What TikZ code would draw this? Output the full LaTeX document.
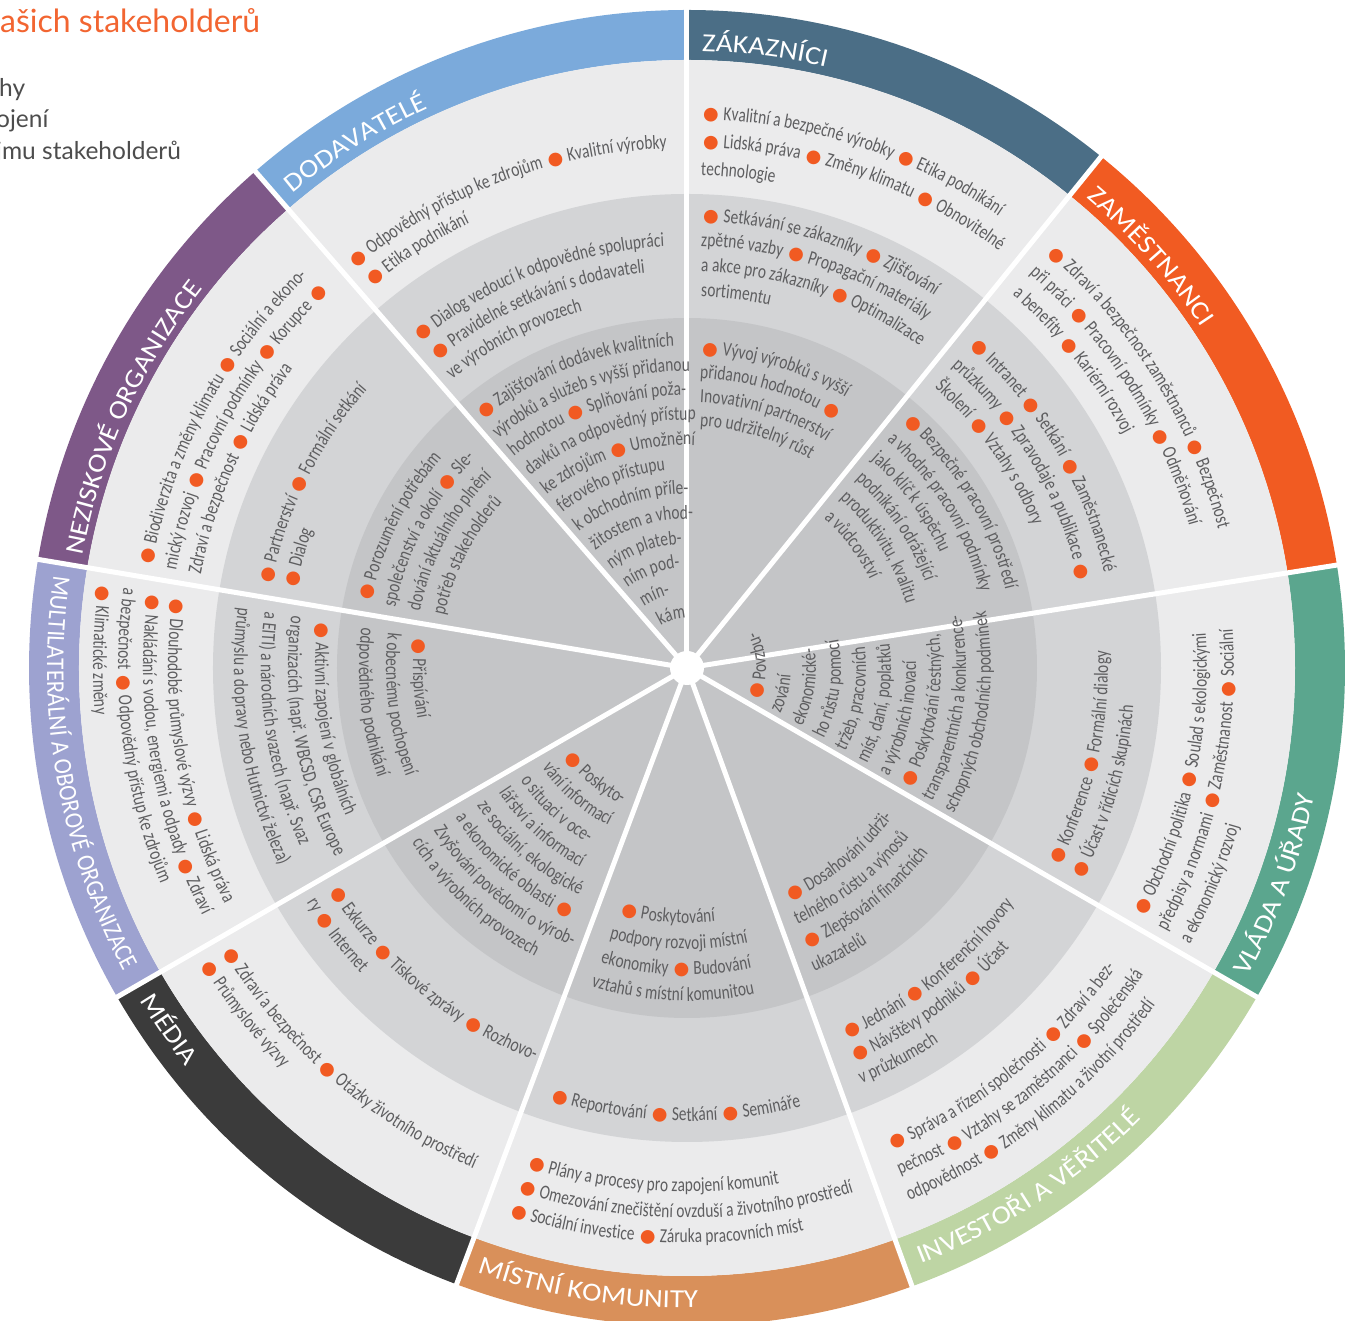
\documentclass[tikz,border=0pt]{standalone}
\usepackage{fontspec}
\usepackage{tikz}
\usetikzlibrary{decorations.text}
\newfontfamily\cnd[FakeStretch=0.77]{Carlito}
\newfontfamily\wide[FakeStretch=1.12]{Carlito}
\newfontfamily\widen[FakeStretch=0.9]{Carlito}
\newfontfamily\symf{DejaVu Sans}
\newfontfamily\legf{Lato}
\definecolor{zak}{HTML}{4B6E86}
\definecolor{zam}{HTML}{F15B22}
\definecolor{vla}{HTML}{5BA68E}
\definecolor{inv}{HTML}{BED5A4}
\definecolor{mis}{HTML}{D9905A}
\definecolor{med}{HTML}{3B3B3B}
\definecolor{mul}{HTML}{9DA2D0}
\definecolor{nez}{HTML}{7E5888}
\definecolor{dod}{HTML}{7BAADB}
\definecolor{ringa}{HTML}{EBEBEC}
\definecolor{ringb}{HTML}{D3D4D6}
\definecolor{ringc}{HTML}{C4C5C7}
\definecolor{txt}{HTML}{5E5E60}
\definecolor{dotc}{HTML}{F15A22}
\definecolor{ttl}{HTML}{F26531}
\definecolor{leg}{HTML}{4D4D4D}
\newcommand\bodyfont{\cnd\fontsize{20}{24}\selectfont\color{txt}}
\newcommand\bandfont{\wide\fontsize{26}{30}\selectfont\color{white}}
\newcommand\bandnarrow{\widen\fontsize{25.5}{30}\selectfont\color{white}}
\newcommand\bul{\kern2pt{\symf\fontsize{18}{18}\selectfont\color{dotc}●}\kern1pt}
% text on an arc, clockwise (upper half) and counterclockwise (lower half)
\newcommand\tup[5][\bodyfont]{%
  \pgfmathsetmacro\tsa{#2-deg(#4/#3)}%
  \pgfmathsetmacro\tsb{\tsa-min(300,deg(600/#3))}%
  \path[decorate,decoration={text along path,text={|#1|#5}}]
    (\tsa:#3) arc[start angle=\tsa,end angle=\tsb,radius=#3];}
\newcommand\tdn[5][\bodyfont]{%
  \pgfmathsetmacro\tsa{#2+deg(#4/#3)}%
  \pgfmathsetmacro\tsb{\tsa+min(300,deg(600/#3))}%
  \path[decorate,decoration={text along path,text={|#1|#5}}]
    (\tsa:#3) arc[start angle=\tsa,end angle=\tsb,radius=#3];}
\tikzstyle{sep}=[white,line width=5pt]
\tikzstyle{legend}=[anchor=base west,inner sep=0pt]

\begin{document}
\begin{tikzpicture}[x=1pt,y=1pt]
\useasboundingbox (-687,-653) rectangle (671,668);
\node[legend,text=ttl,font=\legf\fontsize{32}{34}\selectfont] (title) at (-687,635) {ašich stakeholderů};
\node[legend,text=leg,font=\legf\fontsize{24.5}{26}\selectfont] (lega) at (-688,571) {hy};
\node[legend,text=leg,font=\legf\fontsize{24.5}{26}\selectfont] (legb) at (-691,540) {ojení};
\node[legend,text=leg,font=\legf\fontsize{24.5}{26}\selectfont] (legc) at (-691,508) {jmu stakeholderů};

\foreach \a/\b/\col in {90/51/zak,51/9/zam,9/-30/vla,-30/-70/inv,-70/-110.5/mis,
  -110.5/-150/med,-150/-189.5/mul,170.5/131/nez,131/90/dod}
  \fill[\col] (\a:608) arc[start angle=\a,end angle=\b,radius=608]
    -- (\b:658) arc[start angle=\b,end angle=\a,radius=658] -- cycle;
\fill[ringa] (0,0) circle[radius=608];
\fill[ringb] (0,0) circle[radius=474];
\fill[ringc] (0,0) circle[radius=350];
\foreach \a in {90,51,9,-30,-70,-110.5,-150,170.5,131}
  \draw[sep] (0,0) -- (\a:664);
\fill[white] (0,0) circle[radius=17];

\tup[\bandfont]{90}{617}{15}{ZÁKAZNÍCI}
\tup[\bandfont]{51}{617}{14}{ZAMĚSTNANCI}
\tdn[\bandfont]{-30}{640}{13}{VLÁDA A ÚŘADY}
\tdn[\bandfont]{-70}{640}{16}{INVESTOŘI A VĚŘITELÉ}
\tdn[\bandfont]{-110.5}{640}{15}{MÍSTNÍ KOMUNITY}
\tdn[\bandfont]{-150}{640}{14}{MÉDIA}
\tdn[\bandnarrow]{170.5}{640}{13}{MULTILATERÁLNÍ A OBOROVÉ ORGANIZACE}
\tup[\bandfont]{170.5}{615}{11}{NEZISKOVÉ ORGANIZACE}
\tup[\bandfont]{131}{617}{14}{DODAVATELÉ}

% zakaznici
\tup{90}{549}{14}{{\bul} Kvalitní a bezpečné výrobky {\bul} Etika podnikání}
\tup{90}{521}{14}{{\bul} Lidská práva {\bul} Změny klimatu {\bul} Obnovitelné}
\tup{90}{493}{14}{technologie}
\tup{90}{447}{14}{{\bul} Setkávání se zákazníky {\bul} Zjišťování}
\tup{90}{422}{14}{zpětné vazby {\bul} Propagační materiály}
\tup{90}{397}{14}{a akce pro zákazníky {\bul} Optimalizace}
\tup{90}{372}{14}{sortimentu}
\tup{90}{314}{13}{{\bul} Vývoj výrobků s vyšší}
\tup{90}{290}{13}{přidanou hodnotou {\bul}}
\tup{90}{266}{13}{Inovativní partnerství}
\tup{90}{242}{13}{pro udržitelný růst}

% zamestnanci
\tup{51}{549}{18}{{\bul} Zdraví a bezpečnost zaměstnanců {\bul} Bezpečnost}
\tup{51}{522}{18}{při práci {\bul} Pracovní podmínky {\bul} Odměňování}
\tup{51}{495}{18}{a benefity {\bul} Kariérní rozvoj}
\tup{51}{428}{16}{{\bul} Intranet {\bul} Setkání {\bul} Zaměstnanecké}
\tup{51}{401}{16}{průzkumy {\bul} Zpravodaje a publikace {\bul}}
\tup{51}{374}{16}{Školení {\bul} Vztahy s odbory}
\tup{51}{328}{12}{{\bul} Bezpečné pracovní prostředí}
\tup{51}{303}{12}{a vhodné pracovní podmínky}
\tup{51}{278}{12}{jako klíč k úspěchu}
\tup{51}{253}{12}{podnikání odrážející}
\tup{51}{228}{12}{produktivitu, kvalitu}
\tup{51}{203}{12}{a vůdcovství}

% vlada
\tdn{-30}{520}{12}{{\bul} Obchodní politika {\bul} Soulad s ekologickými}
\tdn{-30}{547}{12}{předpisy a normami {\bul} Zaměstnanost {\bul} Sociální}
\tdn{-30}{574}{12}{a ekonomický rozvoj}
\tdn{-30}{421}{14}{{\bul} Konference {\bul} Formální dialogy}
\tdn{-30}{448}{14}{{\bul} Účast v řídicích skupinách}
\tdn{-30}{79}{7}{{\bul} Povzbu-}
\tdn{-30}{104}{7}{zování}
\tdn{-30}{129}{7}{ekonomické-}
\tdn{-30}{154}{7}{ho růstu pomocí}
\tdn{-30}{179}{7}{tržeb, pracovních}
\tdn{-30}{204}{7}{míst, daní, poplatků}
\tdn{-30}{229}{7}{a výrobních inovací}
\tdn{-30}{254}{7}{{\bul} Poskytování čestných,}
\tdn{-30}{279}{7}{transparentních a konkurence-}
\tdn{-30}{304}{7}{schopných obchodních podmínek}

% investori
\tdn{-70}{523}{27}{{\bul} Správa a řízení společnosti {\bul} Zdraví a bez-}
\tdn{-70}{550}{27}{pečnost {\bul} Vztahy se zaměstnanci {\bul} Společenská}
\tdn{-70}{577}{27}{odpovědnost {\bul} Změny klimatu a životní prostředí}
\tdn{-70}{403}{22}{{\bul} Jednání {\bul} Konferenční hovory}
\tdn{-70}{427}{22}{{\bul} Návštěvy podniků {\bul} Účast}
\tdn{-70}{451}{22}{v průzkumech}
\tdn{-70}{254}{16}{{\bul} Dosahování udrži-}
\tdn{-70}{279}{16}{telného růstu a výnosů}
\tdn{-70}{304}{16}{{\bul} Zlepšování finančních}
\tdn{-70}{329}{16}{ukazatelů}

% mistni komunity
\tdn{-110.5}{524}{24}{{\bul} Plány a procesy pro zapojení komunit}
\tdn{-110.5}{550}{24}{{\bul} Omezování znečištění ovzduší a životního prostředí}
\tdn{-110.5}{575}{24}{{\bul} Sociální investice {\bul} Záruka pracovních míst}
\tdn{-110.5}{453}{22}{{\bul} Reportování {\bul} Setkání {\bul} Semináře}
\tdn{-110.5}{255}{22}{{\bul} Poskytování}
\tdn{-110.5}{281}{22}{podpory rozvoji místní}
\tdn{-110.5}{307}{22}{ekonomiky {\bul} Budování}
\tdn{-110.5}{333}{22}{vztahů s místní komunitou}

% media
\tdn{-150}{544}{13}{{\bul} Zdraví a bezpečnost {\bul} Otázky životního prostředí}
\tdn{-150}{569}{13}{{\bul} Průmyslové výzvy}
\tdn{-150}{421}{13}{{\bul} Exkurze {\bul} Tiskové zprávy {\bul} Rozhovo-}
\tdn{-150}{447}{13}{ry {\bul} Internet}
\tdn{-150}{151}{14}{{\bul} Poskyto-}
\tdn{-150}{176}{14}{vání informací}
\tdn{-150}{201}{14}{o situaci v oce-}
\tdn{-150}{226}{14}{lářství a informací}
\tdn{-150}{251}{14}{ze sociální, ekologické}
\tdn{-150}{276}{14}{a ekonomické oblasti {\bul}}
\tdn{-150}{301}{14}{Zvyšování povědomí o výrob-}
\tdn{-150}{326}{14}{cích a výrobních provozech}

% multilateralni
\tdn{170.5}{519}{14}{{\bul} Dlouhodobé průmyslové výzvy {\bul} Lidská práva}
\tdn{170.5}{544}{14}{{\bul} Nakládání s vodou, energiemi a odpady {\bul} Zdraví}
\tdn{170.5}{569}{14}{a bezpečnost {\bul} Odpovědný přístup ke zdrojům}
\tdn{170.5}{594}{14}{{\bul} Klimatické změny}
\tdn{170.5}{372}{14}{{\bul} Aktivní zapojení v globálních}
\tdn{170.5}{399}{14}{organizacích (např. WBCSD, CSR Europe}
\tdn{170.5}{426}{14}{a EITI) a národních svazech (např. Svaz}
\tdn{170.5}{453}{14}{průmyslu a dopravy nebo Hutnictví železa)}
\tdn{170.5}{274}{14}{{\bul} Přispívání}
\tdn{170.5}{301}{14}{k obecnému pochopení}
\tdn{170.5}{328}{14}{odpovědného podnikání}

% neziskove
\tup{170.5}{545}{12}{{\bul} Biodiverzita a změny klimatu {\bul} Sociální a ekono-}
\tup{170.5}{520}{12}{mický rozvoj {\bul} Pracovní podmínky {\bul} Korupce {\bul}}
\tup{170.5}{495}{12}{Zdraví a bezpečnost {\bul} Lidská práva}
\tup{170.5}{424}{13}{{\bul} Partnerství {\bul} Formální setkání}
\tup{170.5}{399}{13}{{\bul} Dialog}
\tup{170.5}{323}{12}{{\bul} Porozumění potřebám}
\tup{170.5}{298}{12}{společenství a okolí {\bul} Sle-}
\tup{170.5}{273}{12}{dování aktuálního plnění}
\tup{170.5}{248}{12}{potřeb stakeholderů}

% dodavatele
\tup{131}{520}{11}{{\bul} Odpovědný přístup ke zdrojům {\bul} Kvalitní výrobky}
\tup{131}{495}{11}{{\bul} Etika podnikání}
\tup{131}{422}{12}{{\bul} Dialog vedoucí k odpovědné spolupráci}
\tup{131}{397}{12}{{\bul} Pravidelné setkávání s dodavateli}
\tup{131}{372}{12}{ve výrobních provozech}
\tup{131}{322}{8}{{\bul} Zajišťování dodávek kvalitních}
\tup{131}{297}{8}{výrobků a služeb s vyšší přidanou}
\tup{131}{273}{8}{hodnotou {\bul} Splňování poža-}
\tup{131}{248}{8}{davků na odpovědný přístup}
\tup{131}{223}{8}{ke zdrojům {\bul} Umožnění}
\tup{131}{199}{8}{férového přístupu}
\tup{131}{174}{8}{k obchodním příle-}
\tup{131}{149}{8}{žitostem a vhod-}
\tup{131}{124}{8}{ným plateb-}
\tup{131}{100}{8}{ním pod-}
\tup{131}{75}{8}{mín-}
\tup{131}{50}{8}{kám}
\end{tikzpicture}
\end{document}
